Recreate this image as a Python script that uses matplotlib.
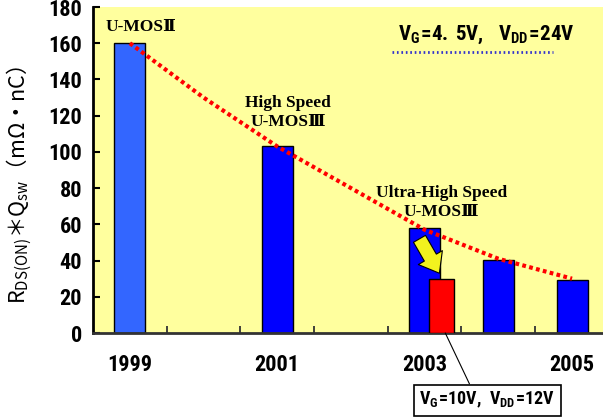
import matplotlib
matplotlib.use('Agg')
import matplotlib.pyplot as plt
from matplotlib import font_manager

# pick the narrowest bold sans that is installed
cond_family, cond_stretch = 'Liberation Sans', 'normal'
for f in font_manager.fontManager.ttflist:
    if f.name == 'Liberation Sans Narrow':
        cond_family, cond_stretch = 'Liberation Sans Narrow', 'normal'
        break
    if f.name == 'Roboto Condensed':
        cond_family, cond_stretch = 'Roboto Condensed', 'normal'
    if f.name == 'DejaVu Sans' and f.stretch == 'condensed' and cond_family == 'Liberation Sans':
        cond_family, cond_stretch = 'DejaVu Sans', 'condensed'

plt.rcParams['mathtext.fontset'] = 'custom'
plt.rcParams['mathtext.rm'] = 'Noto Sans CJK JP'
plt.rcParams['mathtext.bf'] = cond_family + ':bold:stretch=' + cond_stretch

# data
years = [1999, 2001, 2003, 2004, 2005]
values = [160, 103, 58, 40.5, 29.5]
bar_colors = ['#3366FF', '#0000FF', '#0000FF', '#0000FF', '#0000FF']
red_year = 2003.23
red_value = 30
trend_years = [1999, 2000, 2001, 2002, 2003, 2004, 2005]
trend_values = [160, 130, 103, 80, 57, 41, 30]
xtick_years = [1999, 2001, 2003, 2005]
yticks = list(range(0, 181, 20))
labels = [(1999.15, 169, 'U-MOSⅡ'),
          (2001.15, 122, 'High Speed\nU-MOSⅢ'),
          (2003.23, 72, 'Ultra-High Speed\nU-MOSⅢ')]

fig = plt.figure(figsize=(6.03, 4.18), dpi=100)
ax = fig.add_axes([93/603, 1-333/418, 510/603, 326/418])
ax.set_facecolor('#FFFF9E')

ax.bar(years, values, width=0.42, color=bar_colors, edgecolor='black', linewidth=1, zorder=2)
ax.bar([red_year], [red_value], width=0.33, color='#FF0000', edgecolor='black', linewidth=1, zorder=3)

ax.plot(trend_years, trend_values, color='#FF0000', linewidth=3,
        linestyle=(0, (0.9, 0.8)), dash_capstyle='butt', zorder=4)

ax.set_xlim(1998.5, 2005.42)
ax.set_ylim(0, 180)
ax.set_yticks(yticks)
ax.set_xticks(xtick_years)
ax.set_xticks([1999.5 + i for i in range(6)], minor=True)
ax.tick_params(axis='x', which='major', length=0, pad=15)
ax.tick_params(axis='x', which='minor', direction='in', length=5, width=1.3, color='#333333')
ax.tick_params(axis='y', direction='in', length=5, width=1.5, pad=8)
for t in ax.get_xticklabels() + ax.get_yticklabels():
    t.set_fontfamily(cond_family)
    t.set_fontstretch(cond_stretch)
    t.set_fontweight('bold')
    t.set_fontsize(16)

for s in ['top', 'right']:
    ax.spines[s].set_visible(False)
ax.spines['left'].set_linewidth(2)
ax.spines['bottom'].set_linewidth(2)
ax.spines['bottom'].set_color('#333333')

for x, y, s in labels:
    ax.text(x, y, s, ha='center', va='center', fontsize=12.5, fontweight='bold',
            family=['Liberation Serif', 'DejaVu Serif'], linespacing=1.25, zorder=5)

ax.text(2003.84, 164.5, r'$\mathbf{V_G\!=\!4.\,5V,\;\;V_{DD}\!=\!24V}$', ha='center', va='center',
        fontsize=15, zorder=5)
ax.plot([2002.56, 2004.74], [155, 155], color='#3333CC', linewidth=2,
        linestyle=(0, (0.6, 1.0)), zorder=4)

ax.annotate('', xy=(2003.2, 33), xytext=(2002.93, 52),
            arrowprops=dict(arrowstyle='simple,head_width=2.0,head_length=1.3,tail_width=1.0',
                            fc='#F2F21E', ec='black', lw=0.8, shrinkA=0, shrinkB=0), zorder=6)

ax.annotate(r'$\mathbf{V_G\!=\!10V,\;V_{DD}\!=\!12V}$', xy=(2003.28, 0), xytext=(2003.85, -37),
            textcoords='data', ha='center', va='center', fontsize=13, annotation_clip=False,
            bbox=dict(boxstyle='square,pad=0.3', fc='white', ec='black', lw=1.2),
            arrowprops=dict(arrowstyle='-', color='black', lw=0.8, relpos=(0.39, 1),
                            shrinkA=0, shrinkB=0))

fig.text(19/603, 1-185/418, r'R$_{\mathrm{DS(ON)}}$＊Q$_{\mathrm{sw}}$（mΩ・nC）',
         rotation=90, ha='center', va='center', fontsize=15.5, family='Noto Sans CJK JP')

fig.savefig('out.png', dpi=100)
